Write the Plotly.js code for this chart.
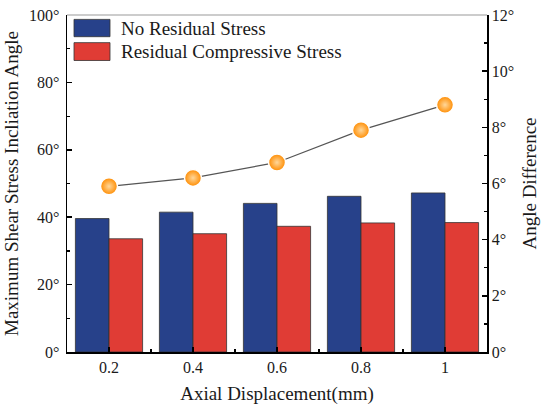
<!DOCTYPE html>
<html>
<head>
<meta charset="utf-8">
<script src="https://cdn.plot.ly/plotly-3.0.1.min.js"></script>
<style>html,body{margin:0;padding:0;background:#fff;}#chart{width:550px;height:414px;}</style>
</head>
<body>
<div id="chart"></div>
<script>
const displacement = [0.2, 0.4, 0.6, 0.8, 1.0];
const tickLabels = ['0.2', '0.4', '0.6', '0.8', '1'];
const noResidual = [39.6, 41.5, 44.1, 46.2, 47.2];
const residualCompressive = [33.6, 35.1, 37.3, 38.3, 38.4];
const angleDifference = [5.9, 6.2, 6.75, 7.9, 8.8];
const seriesNames = ['No Residual Stress', 'Residual Compressive Stress'];

const serif = 'Liberation Serif, Times New Roman, serif';
const blue = '#27418a';
const red = '#e03c35';
const textColor = '#1a1a1a';

const traces = [
  {type: 'bar', name: seriesNames[0], x: displacement, y: noResidual,
   marker: {color: blue, line: {color: '#333', width: 0.8}}, showlegend: false},
  {type: 'bar', name: seriesNames[1], x: displacement, y: residualCompressive,
   marker: {color: red, line: {color: '#333', width: 0.8}}, showlegend: false},
  {type: 'scatter', mode: 'lines+markers', name: 'Angle Difference', x: displacement, y: angleDifference,
   yaxis: 'y2', line: {color: '#555', width: 1.2},
   marker: {size: 17, color: '#ff8c00', gradient: {type: 'radial', color: '#ffd79a'},
            line: {color: '#ffffff', width: 1.5}}, showlegend: false}
];

function swatchShape(y0, y1, color) {
  return {type: 'rect', xref: 'paper', yref: 'paper', x0: 0.0167, x1: 0.1024, y0: y0, y1: y1,
          fillcolor: color, line: {color: '#333', width: 0.8}};
}

const tickFont = {size: 16, family: serif, color: textColor};
const titleFont = {size: 19, family: serif, color: textColor};

const layout = {
  width: 550, height: 414,
  margin: {l: 67, r: 63, t: 15, b: 62},
  paper_bgcolor: '#fff', plot_bgcolor: '#fff',
  font: {family: serif, color: textColor, size: 16},
  barmode: 'group', bargap: 0.2, bargroupgap: 0,
  xaxis: {
    range: [0.1, 1.1], tickmode: 'array', tickvals: displacement, ticktext: tickLabels,
    ticks: 'inside', ticklen: 5, tickwidth: 1.5, tickcolor: '#000',
    minor: {tickmode: 'linear', tick0: 0.1, dtick: 0.2, ticks: 'inside', ticklen: 3, tickwidth: 1.2, tickcolor: '#000'},
    showline: true, linecolor: '#000', linewidth: 1.5, showgrid: false, zeroline: false,
    tickfont: tickFont,
    title: {text: 'Axial Displacement(mm)', font: titleFont, standoff: 12}
  },
  yaxis: {
    range: [0, 100], dtick: 20, ticksuffix: '°',
    ticks: 'inside', ticklen: 5, tickwidth: 1.5, tickcolor: '#000',
    minor: {dtick: 10, ticks: 'inside', ticklen: 3, tickwidth: 1.2, tickcolor: '#000'},
    showline: true, linecolor: '#000', linewidth: 1.5, showgrid: false, zeroline: false,
    tickfont: tickFont, ticklabelstandoff: 3,
    title: {text: 'Maximum Shear Stress Incliation Angle', font: titleFont, standoff: 5}
  },
  yaxis2: {
    overlaying: 'y', side: 'right', range: [0, 12], dtick: 2, ticksuffix: '°',
    ticks: 'inside', ticklen: 5, tickwidth: 1.5, tickcolor: '#000',
    minor: {dtick: 1, ticks: 'inside', ticklen: 3, tickwidth: 1.2, tickcolor: '#000'},
    showline: true, linecolor: '#000', linewidth: 1.5, showgrid: false, zeroline: false,
    tickfont: tickFont,
    title: {text: 'Angle Difference', font: titleFont, standoff: 9}
  },
  shapes: [
    {type: 'line', xref: 'paper', yref: 'paper', x0: 0, x1: 1, y0: 1, y1: 1, line: {color: '#999', width: 1}},
    swatchShape(0.9356, 0.987, blue),
    swatchShape(0.865, 0.918, red)
  ],
  annotations: [
    {xref: 'paper', yref: 'paper', x: 0.124, y: 0.961, xanchor: 'left', yanchor: 'middle', showarrow: false,
     text: seriesNames[0], font: titleFont},
    {xref: 'paper', yref: 'paper', x: 0.124, y: 0.891, xanchor: 'left', yanchor: 'middle', showarrow: false,
     text: seriesNames[1], font: titleFont}
  ]
};

Plotly.newPlot('chart', traces, layout, {displayModeBar: false, staticPlot: true});
</script>
</body>
</html>
